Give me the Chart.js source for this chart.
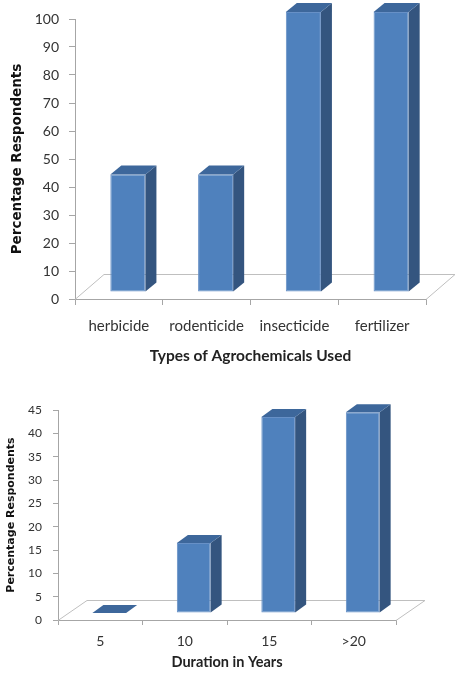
<!DOCTYPE html>
<html>
<head>
<meta charset="utf-8">
<script src="https://cdn.jsdelivr.net/npm/chart.js@4/dist/chart.umd.min.js"></script>
<style>
  html, body { margin: 0; padding: 0; background: #ffffff; }
  #wrap { position: relative; width: 456px; height: 673px; }
  canvas { position: absolute; left: 0; }
  #agro { top: 0; }
  #duration { top: 375px; }
</style>
</head>
<body>
<div id="wrap">
  <canvas id="agro" width="456" height="375"></canvas>
  <canvas id="duration" width="456" height="298"></canvas>
</div>
<script>
// Types of agrochemicals used
const agroCategories = ['herbicide', 'rodenticide', 'insecticide', 'fertilizer'];
const agroPercent = [42, 42, 100, 100];
const agroAxisMax = 100;
const agroAxisStep = 10;

// Duration of use, in years
const durationCategories = ['5', '10', '15', '>20'];
const durationPercent = [0, 15, 42, 43];
const durationAxisMax = 45;
const durationAxisStep = 5;

const FRONT = '#4f81bd';
const SIDE = '#34557f';
const TOP = '#3d679b';
const AXIS_GREY = '#a6a6a6';
const TEXT = '#333333';

// Draws the floor of the 3-D plot and the side/top faces of each column.
const columns3d = {
  id: 'columns3d',
  beforeDatasetsDraw(chart, args, opts) {
    const { ctx, chartArea: a } = chart;
    const [fx, fy] = opts.floor;
    const b = Math.round(a.bottom) + 0.5;
    ctx.save();
    ctx.strokeStyle = opts.floorColor;
    ctx.lineWidth = 1;
    ctx.beginPath();
    ctx.moveTo(a.left, b);
    ctx.lineTo(a.left + fx, b + fy);
    ctx.lineTo(a.right + fx, b + fy);
    ctx.lineTo(a.right, b);
    ctx.stroke();
    ctx.restore();
    // columns sit part-way back on the floor
    ctx.save();
    ctx.translate(opts.shift[0], opts.shift[1]);
  },
  afterDatasetsDraw(chart, args, opts) {
    const { ctx } = chart;
    const [dx, dy] = opts.depth;
    chart.getDatasetMeta(0).data.forEach(bar => {
      const { x, y, base, width } = bar.getProps(['x', 'y', 'base', 'width'], true);
      const l = x - width / 2, r = x + width / 2;
      ctx.fillStyle = opts.sideColor;
      ctx.beginPath();
      ctx.moveTo(r, base);
      ctx.lineTo(r + dx, base + dy);
      ctx.lineTo(r + dx, y + dy);
      ctx.lineTo(r, y);
      ctx.closePath();
      ctx.fill();
      ctx.fillStyle = opts.topColor;
      ctx.beginPath();
      ctx.moveTo(l, y);
      ctx.lineTo(r, y);
      ctx.lineTo(r + dx, y + dy);
      ctx.lineTo(l + dx, y + dy);
      ctx.closePath();
      ctx.fill();
    });
    ctx.restore();
  }
};

function makeChart(canvasId, cfg) {
  return new Chart(document.getElementById(canvasId), {
    type: 'bar',
    data: {
      labels: cfg.labels,
      datasets: [{
        data: cfg.values,
        backgroundColor: FRONT,
        borderColor: '#6790c6',
        borderWidth: 1,
        borderSkipped: false,
        barPercentage: 0.8,
        categoryPercentage: 0.5,
        clip: false
      }]
    },
    options: {
      responsive: false,
      animation: false,
      events: [],
      layout: { padding: cfg.padding },
      plugins: {
        legend: { display: false },
        tooltip: { enabled: false },
        columns3d: {
          floor: cfg.floor,
          shift: cfg.shift,
          depth: cfg.depth,
          floorColor: '#bfbfbf',
          sideColor: SIDE,
          topColor: TOP
        }
      },
      scales: {
        x: {
          offset: true,
          grid: {
            offset: true,
            drawOnChartArea: false,
            drawTicks: true,
            tickLength: cfg.xTickLength,
            color: AXIS_GREY
          },
          border: { display: true, color: AXIS_GREY, width: 1 },
          ticks: {
            color: TEXT,
            font: { family: 'Lato', size: cfg.xFont },
            padding: cfg.xPad,
            maxRotation: 0,
            autoSkip: false
          },
          title: {
            display: true,
            text: cfg.xTitle,
            color: '#222222',
            font: { family: 'Lato', size: cfg.xTitleFont, weight: 'bold' },
            padding: { top: 0, bottom: cfg.xTitlePad }
          },
          afterFit: s => { s.height = cfg.xHeight; }
        },
        y: {
          min: 0,
          max: cfg.max,
          grid: {
            drawOnChartArea: false,
            drawTicks: true,
            tickLength: cfg.yTickLength,
            color: AXIS_GREY
          },
          border: { display: true, color: AXIS_GREY, width: 1 },
          ticks: {
            stepSize: cfg.step,
            color: TEXT,
            font: { family: 'Lato', size: cfg.yFont },
            padding: cfg.yPad
          },
          title: {
            display: true,
            text: 'Percentage Respondents',
            color: '#111111',
            font: { family: 'DejaVu Sans', size: cfg.yTitleFont, weight: 'bold' },
            padding: { top: cfg.yTitlePad, bottom: 0 }
          },
          afterFit: s => { s.width = cfg.yWidth; }
        }
      }
    },
    plugins: [columns3d]
  });
}

makeChart('agro', {
  labels: agroCategories,
  values: agroPercent,
  max: agroAxisMax,
  step: agroAxisStep,
  padding: { top: 19, right: 30, bottom: 0, left: 0 },
  floor: [29, -25],
  shift: [9, -7],
  depth: [11, -9],
  xTickLength: 6,
  xFont: 15,
  xPad: 12,
  xTitle: 'Types of Agrochemicals Used',
  xTitleFont: 15.5,
  xTitlePad: 10,
  xHeight: 76,
  yTickLength: 6,
  yFont: 14,
  yPad: 10,
  yTitleFont: 13.5,
  yTitlePad: 9.5,
  yWidth: 75
});

makeChart('duration', {
  labels: durationCategories,
  values: durationPercent,
  max: durationAxisMax,
  step: durationAxisStep,
  padding: { top: 35, right: 60, bottom: 0, left: 0 },
  floor: [29, -20],
  shift: [9, -7],
  depth: [11, -8],
  xTickLength: 5,
  xFont: 14,
  xPad: 8,
  xTitle: 'Duration in Years',
  xTitleFont: 14.5,
  xTitlePad: 1.5,
  xHeight: 53,
  yTickLength: 5,
  yFont: 12,
  yPad: 11,
  yTitleFont: 11,
  yTitlePad: 4.4,
  yWidth: 58
});
</script>
</body>
</html>
